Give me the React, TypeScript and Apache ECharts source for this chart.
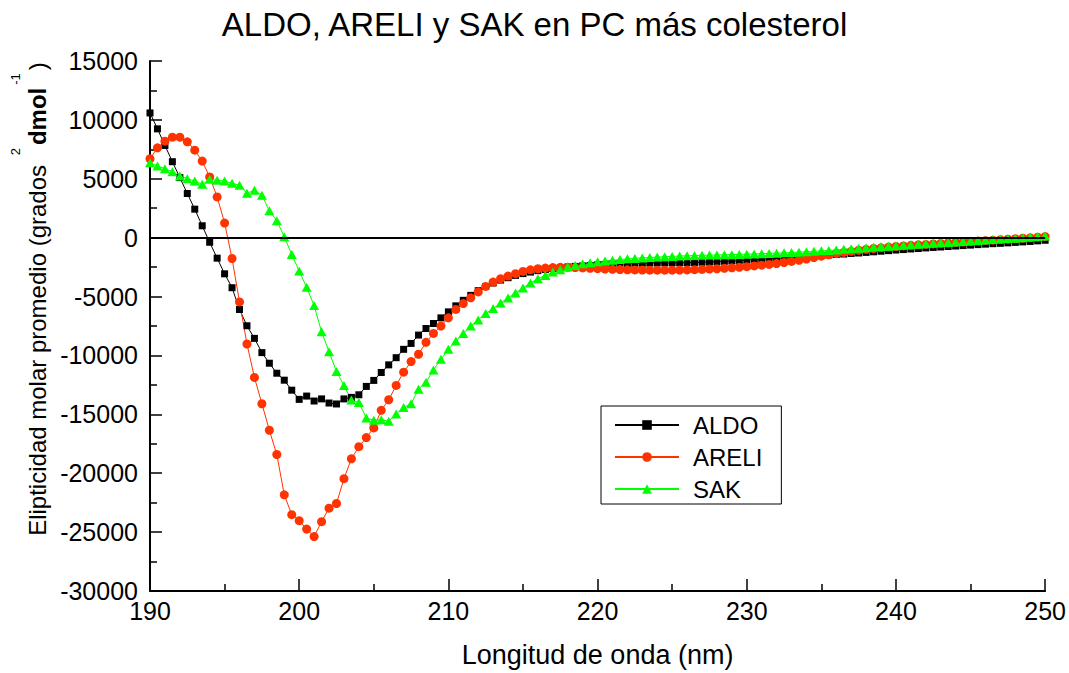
import React, { useEffect, useRef } from "react";
import * as echarts from "echarts";

const FONT = "'Liberation Sans', Arial, Helvetica, sans-serif";

const titleText = "ALDO, ARELI y SAK en PC más colesterol";
const seriesNames = ["ALDO", "ARELI", "SAK"];
const xAxisTitle = "Longitud de onda (nm)";

// wavelength grid: 190 → 250 nm, 0.5 nm step (axis positions, not data values)
const wlStart = 190;
const wlStep = 0.5;

const aldo = [
  10590, 9240, 7830, 6450, 5100, 3750, 2420, 1010, -390, -1740,
  -3070, -4250, -6100, -7480, -8550, -9760, -10660, -11510, -12100, -12950,
  -13730, -13450, -13870, -13690, -14040, -14120, -13690, -13560, -13340, -12630,
  -12120, -11450, -10800, -10190, -9480, -8980, -8270, -7710, -7290, -6810,
  -6300, -5790, -5320, -4900, -4500, -4150, -3850, -3600, -3400, -3200,
  -3050, -2920, -2800, -2700, -2620, -2550, -2490, -2440, -2400, -2360,
  -2320, -2290, -2260, -2230, -2210, -2190, -2170, -2160, -2150, -2140,
  -2140, -2130, -2120, -2110, -2090, -2070, -2040, -2010, -1980, -1950,
  -1910, -1870, -1830, -1790, -1750, -1710, -1670, -1630, -1590, -1550,
  -1510, -1470, -1430, -1390, -1340, -1300, -1250, -1200, -1150, -1100,
  -1050, -1010, -960, -920, -870, -830, -790, -750, -710, -670,
  -630, -590, -550, -510, -480, -440, -400, -360, -320, -270,
  -220,
];

const areli = [
  6700, 7630, 8190, 8530, 8530, 8140, 7430, 6500, 5150, 3460,
  1240, -1770, -5460, -9030, -11870, -14100, -16350, -18410, -21830, -23520,
  -24030, -24740, -25380, -24110, -22970, -22570, -20460, -18770, -17750, -16970,
  -16150, -14660, -13760, -12550, -11420, -10520, -9900, -8890, -8130, -7510,
  -6810, -6090, -5600, -5110, -4610, -4140, -3770, -3490, -3260, -3060,
  -2870, -2730, -2640, -2580, -2540, -2520, -2520, -2540, -2570, -2600,
  -2630, -2660, -2690, -2710, -2730, -2740, -2750, -2760, -2760, -2760,
  -2760, -2750, -2740, -2720, -2700, -2670, -2640, -2600, -2560, -2510,
  -2460, -2400, -2340, -2270, -2200, -2110, -2020, -1920, -1810, -1690,
  -1570, -1460, -1350, -1250, -1160, -1070, -990, -920, -860, -800,
  -750, -700, -650, -610, -570, -530, -490, -450, -410, -370,
  -330, -290, -250, -210, -170, -130, -90, -50, -10, 40,
  90,
];

const sak = [
  6370, 6080, 5860, 5600, 5240, 5010, 4810, 4530, 4960, 4870,
  4810, 4620, 4450, 3770, 4030, 3610, 2280, 1440, 80, -1420,
  -2840, -4220, -5770, -7990, -9680, -11370, -12550, -13790, -14000, -15310,
  -15500, -15450, -15590, -14970, -14410, -14100, -12860, -12270, -11230, -10330,
  -9480, -8780, -8130, -7500, -6980, -6440, -6020, -5540, -5120, -4690,
  -4270, -3850, -3490, -3210, -2920, -2730, -2500, -2360, -2220, -2140,
  -2050, -1980, -1920, -1860, -1800, -1760, -1720, -1680, -1650, -1620,
  -1590, -1560, -1540, -1520, -1500, -1480, -1470, -1450, -1440, -1420,
  -1400, -1380, -1360, -1340, -1320, -1290, -1260, -1230, -1200, -1160,
  -1120, -1080, -1040, -990, -940, -890, -850, -800, -760, -720,
  -680, -640, -600, -560, -520, -480, -440, -400, -360, -320,
  -280, -240, -200, -160, -120, -80, -40, 0, 50, 100,
  150,
];

const pairs = (vals: number[]) => vals.map((v, i) => [wlStart + i * wlStep, v]);

export default function App() {
  const ref = useRef<HTMLDivElement>(null);

  useEffect(() => {
    document.body.style.margin = "0";
    if (!ref.current) return;
    const chart = echarts.init(ref.current, null, { renderer: "svg" });

    const axisCommon = {
      axisLine: { show: true, onZero: false, lineStyle: { color: "#000", width: 2 } },
      axisTick: { show: true, inside: true, length: 12, lineStyle: { color: "#000", width: 1.5 } },
      minorTick: { show: true, splitNumber: 2, length: 7, lineStyle: { color: "#000", width: 1.5 } },
      splitLine: { show: false },
      minorSplitLine: { show: false },
    };

    chart.setOption({
      animation: false,
      backgroundColor: "#fff",
      textStyle: { fontFamily: FONT },
      title: {
        text: titleText,
        left: "center",
        top: 8,
        padding: 0,
        textStyle: { fontFamily: FONT, fontSize: 33, fontWeight: "normal", color: "#000" },
      },
      grid: { left: 150, right: 22, top: 61, bottom: 79, containLabel: false },
      legend: {
        orient: "vertical",
        left: 601,
        top: 406,
        padding: [7, 19, 3, 13],
        itemWidth: 64,
        itemHeight: 12,
        itemGap: 8,
        borderColor: "#000",
        borderWidth: 1,
        backgroundColor: "#fff",
        data: seriesNames,
        textStyle: { fontFamily: FONT, fontSize: 24, color: "#000", padding: [0, 0, 0, 9] },
      },
      xAxis: {
        type: "value",
        min: 190,
        max: 250,
        interval: 10,
        ...axisCommon,
        axisLabel: { fontFamily: FONT, fontSize: 25, color: "#000", margin: 7, formatter: (v: number) => String(v) },
        name: xAxisTitle,
        nameLocation: "middle",
        nameGap: 50,
        nameTextStyle: { fontFamily: FONT, fontSize: 27, color: "#000" },
      },
      yAxis: {
        type: "value",
        min: -30000,
        max: 15000,
        interval: 5000,
        ...axisCommon,
        axisLabel: { fontFamily: FONT, fontSize: 25, color: "#000", margin: 12, formatter: (v: number) => String(v) },
        name: "Elipticidad molar promedio (grados {sup|2}{b|dmol}{sup|-1})",
        nameLocation: "middle",
        nameGap: 80,
        nameTextStyle: {
          fontFamily: FONT,
          fontSize: 24,
          color: "#000",
          padding: [0, 0, 0, 54],
          rich: {
            sup: { fontFamily: FONT, fontSize: 13, color: "#000", padding: [0, 3, 44, 3] },
            b: { fontFamily: FONT, fontSize: 24, color: "#000", fontWeight: "bold" },
          },
        },
      },
      series: [
        {
          name: seriesNames[0],
          type: "line",
          data: pairs(aldo),
          symbol: "rect",
          symbolSize: 7,
          lineStyle: { color: "#000", width: 1 },
          itemStyle: { color: "#000" },
          markLine: {
            silent: true,
            symbol: ["none", "none"],
            label: { show: false },
            lineStyle: { color: "#000", width: 2, type: "solid" },
            data: [{ yAxis: 0 }],
          },
        },
        {
          name: seriesNames[1],
          type: "line",
          data: pairs(areli),
          symbol: "circle",
          symbolSize: 9,
          lineStyle: { color: "#ff3300", width: 1 },
          itemStyle: { color: "#ff3300" },
        },
        {
          name: seriesNames[2],
          type: "line",
          data: pairs(sak),
          symbol: "triangle",
          symbolSize: [10, 9],
          lineStyle: { color: "#00ff00", width: 1 },
          itemStyle: { color: "#00ff00" },
        },
      ],
    });

    return () => chart.dispose();
  }, []);

  return <div ref={ref} style={{ width: 1069, height: 673 }} />;
}
